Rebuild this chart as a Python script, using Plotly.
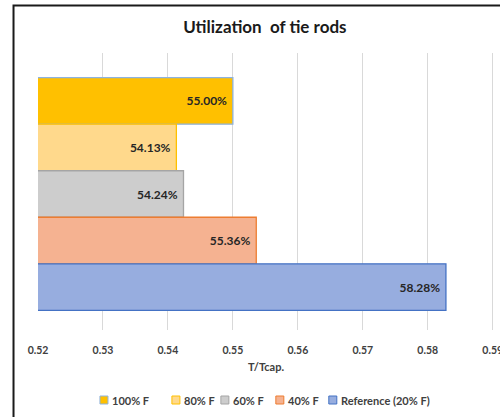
import plotly.graph_objects as go

# Utilization (T/Tcap.) of tie rods for each load case
series_names = ["100% F", "80% F", "60% F", "40% F", "Reference (20% F)"]
utilization = [0.5500, 0.5413, 0.5424, 0.5536, 0.5828]
category = ["Tie rods"]

fill_colors = ["#FFC000", "#FFD98C", "#CDCDCD", "#F5B291", "#97ADDF"]
edge_colors = ["#8DB3E0", "#FFC000", "#A5A5A5", "#ED7D31", "#4472C4"]

x_ticks = [0.52, 0.53, 0.54, 0.55, 0.56, 0.57, 0.58, 0.59]

FONT = "Lato, 'Open Sans', sans-serif"
NBSP = "\u00a0"

fig = go.Figure()
for name, val, fc, ec in zip(series_names, utilization, fill_colors, edge_colors):
    fig.add_trace(go.Bar(
        name=name,
        y=category,
        x=[val],
        base=0,
        orientation="h",
        marker=dict(color=fc, line=dict(color=ec, width=1.3)),
        texttemplate="%{x:.2%}" + NBSP,
        textposition="inside",
        insidetextanchor="end",
        textfont=dict(family=FONT, size=12, color="#262626", weight="bold"),
        hoverinfo="x+name",
        showlegend=False,
    ))

W, H = 500, 417
x_min, x_max = 0.52, 0.5902
px_per_unit = 455 / 0.07
ml, mt, mb = 38, 53, 87
pw = (x_max - x_min) * px_per_unit
mr = W - ml - pw
ph = H - mt - mb

def px_x(p):
    return (p - ml) / pw

def px_y(p):
    return 1 - (p - mt) / ph

# Compact legend row: small swatch followed closely by the series name
legend_left = [100, 172, 221, 276, 329]
legend_y = 400
sw = 8
shapes = []
annotations = []
for left, name, fc, ec in zip(legend_left, series_names, fill_colors, edge_colors):
    shapes.append(dict(
        type="rect", xref="paper", yref="paper",
        x0=px_x(left), x1=px_x(left + sw),
        y0=px_y(legend_y + sw / 2), y1=px_y(legend_y - sw / 2),
        fillcolor=fc, line=dict(color=ec, width=1),
    ))
    annotations.append(dict(
        text=f"<b>{name}</b>", xref="paper", yref="paper",
        x=px_x(left + sw + 2), y=px_y(legend_y),
        xanchor="left", yanchor="middle", showarrow=False,
        font=dict(family=FONT, size=11, color="#404040"),
    ))

# Outer chart frame
shapes.append(dict(
    type="rect", xref="paper", yref="paper",
    x0=px_x(13.5), x1=px_x(560), y0=px_y(560), y1=px_y(5.5),
    line=dict(color="#1a1a1a", width=2), fillcolor="rgba(0,0,0,0)",
    layer="above",
))

shift = 2.5 / ph

fig.update_layout(
    width=W, height=H,
    margin=dict(l=ml, r=mr, t=mt, b=mb, pad=0, autoexpand=False),
    paper_bgcolor="white",
    plot_bgcolor="white",
    barmode="group",
    bargap=0.16,
    bargroupgap=0,
    font=dict(family=FONT, color="#404040"),
    title=dict(
        text="<b>Utilization  of tie rods</b>",
        x=px_x(265), xanchor="center", xref="paper",
        y=1 - 27 / H, yanchor="middle",
        font=dict(family=FONT, size=17, color="#1a1a1a"),
    ),
    xaxis=dict(
        range=[x_min, x_max],
        automargin=False,
        tickvals=x_ticks,
        ticktext=[f"{t:.2f}" for t in x_ticks],
        showgrid=True, gridcolor="#D9D9D9", gridwidth=1,
        zeroline=False, showline=False, ticks="",
        ticklabelstandoff=12,
        ticklabeloverflow="allow",
        tickfont=dict(family=FONT, size=10.5, color="#404040", weight="bold"),
        title=dict(text="<b>T/Tcap.</b>", standoff=8,
                   font=dict(family=FONT, size=11, color="#404040")),
    ),
    yaxis=dict(
        range=[0.5 - shift, -0.5 - shift],
        automargin=False,
        showticklabels=False, showgrid=False, zeroline=False, showline=False,
        ticks="",
    ),
    showlegend=False,
    shapes=shapes,
    annotations=annotations,
)

fig.write_html("out.html")
